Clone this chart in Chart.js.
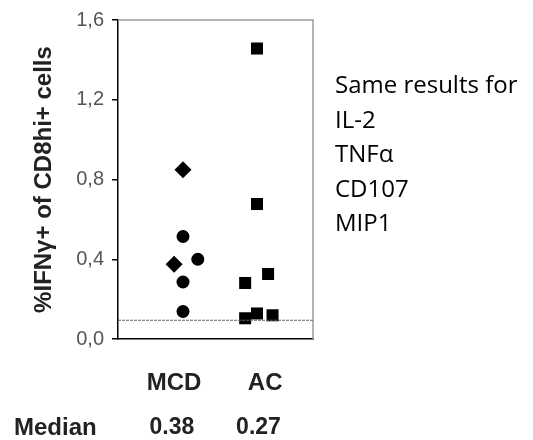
<!DOCTYPE html>
<html>
<head>
<meta charset="utf-8">
<script src="https://cdn.jsdelivr.net/npm/chart.js@4"></script>
<style>
  html, body { margin: 0; padding: 0; background: #fff; }
  #wrap { position: relative; width: 533px; height: 440px; }
  #note {
    position: absolute; left: 335px; top: 67px;
    font-family: "Open Sans", sans-serif; font-size: 24px; line-height: 34.5px; color: #000;
  }
</style>
</head>
<body>
<div id="wrap">
  <canvas id="chart" width="533" height="440"></canvas>
  <div id="note">Same results for<br>IL-2<br>TNFα<br>CD107<br>MIP1</div>
</div>
<script>
// groups on the x axis (1 = MCD, 2 = AC)
const groups = ['MCD', 'AC'];
const groupPos = [1, 2];
const medians = ['0.38', '0.27'];
const yTicks = [0, 0.4, 0.8, 1.2, 1.6];
const threshold = 0.094;

// MCD patients, diamonds
const mcdDiamonds = [0.849, 0.375];
const mcdDiamondJitter = [0, -0.12];
// MCD patients, circles
const mcdCircles = [0.514, 0.40, 0.286, 0.138];
const mcdCircleJitter = [0, 0.2, 0, 0];
// AC patients, squares
const acSquares = [1.457, 0.677, 0.326, 0.281, 0.104, 0.128, 0.119];
const acSquareJitter = [0, 0, 0.15, -0.16, -0.16, 0, 0.21];

const xMin = 0.1216, xMax = 2.7568;

const pts = (vals, jit, g) => vals.map((v, i) => ({ x: groupPos[g] + jit[i], y: v }));

// gray top/right frame + category and median labels under the axis
const extras = {
  id: 'extras',
  beforeDatasetsDraw(chart) {
    const { ctx, chartArea: a } = chart;
    ctx.save();
    ctx.strokeStyle = '#9a9a9a';
    ctx.lineWidth = 1.5;
    ctx.beginPath();
    ctx.moveTo(a.left, a.top);
    ctx.lineTo(a.right, a.top);
    ctx.lineTo(a.right, a.bottom);
    ctx.stroke();
    ctx.restore();
  },
  afterDraw(chart) {
    const { ctx } = chart;
    const x = chart.scales.x;
    ctx.save();
    ctx.font = 'bold 24px "Liberation Sans"';
    ctx.fillStyle = '#222';
    ctx.textAlign = 'center';
    ctx.textBaseline = 'middle';
    groups.forEach((g, i) => {
      ctx.fillText(g, x.getPixelForValue(groupPos[i] + (i === 0 ? -0.12 : 0.11)), 383);
    });
    ctx.font = 'bold 23px "Liberation Sans"';
    groups.forEach((g, i) => {
      ctx.fillText(medians[i], x.getPixelForValue(groupPos[i] + (i === 0 ? -0.15 : 0.02)), 428);
    });
    ctx.font = 'bold 24px "Liberation Sans"';
    ctx.textAlign = 'left';
    ctx.fillText('Median', 14, 428);
    ctx.restore();
  }
};

new Chart(document.getElementById('chart'), {
  type: 'scatter',
  data: {
    datasets: [
      {
        type: 'line',
        data: [{ x: xMin, y: threshold }, { x: xMax, y: threshold }],
        borderColor: '#666',
        borderWidth: 1.2,
        borderDash: [3, 1],
        pointRadius: 0
      },
      {
        data: pts(mcdDiamonds, mcdDiamondJitter, 0),
        pointStyle: 'rectRot', pointRadius: 8.5,
        backgroundColor: '#000', borderColor: '#000', borderWidth: 0
      },
      {
        data: pts(mcdCircles, mcdCircleJitter, 0),
        pointStyle: 'circle', pointRadius: 6.5,
        backgroundColor: '#000', borderColor: '#000', borderWidth: 0
      },
      {
        data: pts(acSquares, acSquareJitter, 1),
        pointStyle: 'rect', pointRadius: 8.5,
        backgroundColor: '#000', borderColor: '#000', borderWidth: 0
      }
    ]
  },
  options: {
    responsive: false,
    animation: false,
    layout: { padding: { top: 15, right: 220, bottom: 0, left: 0 } },
    plugins: { legend: { display: false }, tooltip: { enabled: false } },
    scales: {
      x: {
        type: 'linear', min: xMin, max: xMax,
        grid: { display: false },
        border: { color: '#000', width: 1.5 },
        ticks: { display: false },
        afterFit: s => { s.height = 101; }
      },
      y: {
        min: 0, max: 1.6,
        afterBuildTicks: s => { s.ticks = yTicks.map(v => ({ value: v })); },
        afterFit: s => { s.width = 118; },
        grid: { drawOnChartArea: false, drawTicks: true, tickLength: 6, color: '#000', lineWidth: 1.5 },
        border: { color: '#000', width: 1.5 },
        ticks: {
          padding: 8, color: '#555',
          font: { family: 'Liberation Sans', size: 20 },
          callback: v => v.toFixed(1).replace('.', ',')
        },
        title: {
          display: true,
          text: '%IFNγ+ of CD8hi+ cells',
          color: '#222',
          font: { family: 'Liberation Sans', size: 24, weight: 'bold' },
          padding: { top: 30, bottom: 0 }
        }
      }
    }
  },
  plugins: [extras]
});
</script>
</body>
</html>
